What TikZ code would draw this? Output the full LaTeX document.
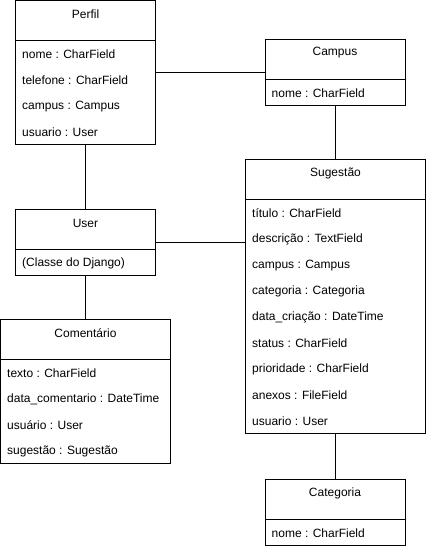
\documentclass[tikz,border=0pt]{standalone}
\usepackage{fontspec}
\setmainfont{Liberation Sans}
\usetikzlibrary{calc}
\tikzset{
  clsbox/.style={draw=black, line width=1pt, fill=white, inner sep=0pt, outer sep=0pt},
  clstitle/.style={inner sep=0pt, font=\fontsize{12}{14}\selectfont, text=black},
  clsrow/.style={inner sep=0pt, anchor=west, font=\fontsize{12}{14}\selectfont, text=black},
  divline/.style={draw=black, line width=1pt},
  link/.style={draw=black, line width=1pt}
}
\newcommand{\umlcls}[7]{%
  \node[clsbox, minimum width=#4, minimum height=#5, anchor=north west] (#1) at (#2,#3) {};
  \node[clstitle] (#1-t) at ([yshift=-13.5pt]#1.north) {#6};
  \draw[divline] ([yshift=-40pt]#1.north west) -- ([yshift=-40pt]#1.north east);
  \foreach \rowtxt [count=\ri] in {#7} {
    \node[clsrow] (#1-r\ri) at ([xshift=6.5pt, yshift={-28pt-26pt*\ri}]#1.north west) {\rowtxt};
  }
}
\begin{document}
\begin{tikzpicture}[x=1pt, y=-1pt]
\useasboundingbox (0,0) rectangle (426,549);
\umlcls{perfil}{15.5}{0.5}{140}{144}{Perfil}{nome : CharField, telefone : CharField, campus : Campus, usuario : User}
\umlcls{campus}{265}{39.5}{140}{66}{Campus}{nome : CharField}
\umlcls{user}{15.5}{209.5}{140}{66}{User}{(Classe do Django)}
\umlcls{sug}{245.5}{159.5}{180}{274}{Sugestão}{título : CharField, descrição : TextField, campus : Campus, categoria : Categoria, data\_criação : DateTime, status : CharField, prioridade : CharField, anexos : FileField, usuario : User}
\umlcls{coment}{0.5}{319.5}{170}{144}{Comentário}{texto : CharField, data\_comentario : DateTime, usuário : User, sugestão : Sugestão}
\umlcls{categ}{265}{479.5}{140}{66}{Categoria}{nome : CharField}
% connectors
\draw[link] (campus.west) -- (campus.west -| perfil.east);
\draw[link] (perfil.south) -- (user.north);
\draw[link] (campus.south) -- (campus.south |- sug.north);
\draw[link] (user.east) -- (user.east -| sug.west);
\draw[link] (user.south) -- (coment.north -| user.south);
\draw[link] (sug.south -| categ.north) -- (categ.north);
\end{tikzpicture}
\end{document}
